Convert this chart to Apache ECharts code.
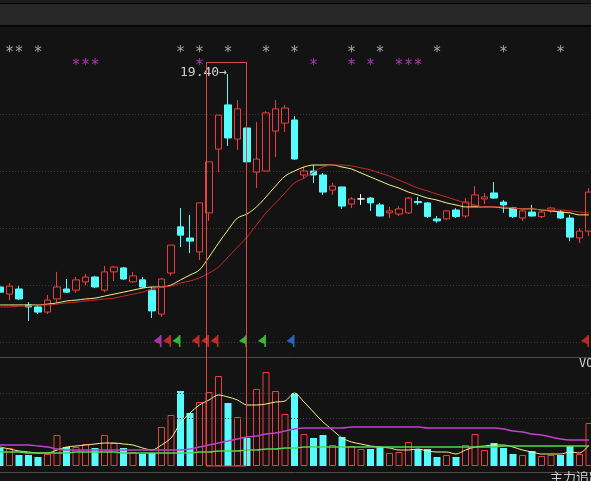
<!DOCTYPE html>
<html><head><meta charset="utf-8">
<script src="https://cdn.jsdelivr.net/npm/echarts@6/dist/echarts.min.js"></script>
<style>html,body{margin:0;padding:0;background:#131313;}#c{width:591px;height:481px;}</style>
</head><body><div id="c"></div>
<script>
const categories = ["1","2","3","4","5","6","7","8","9","10","11","12","13","14","15","16","17","18","19","20","21","22","23","24","25","26","27","28","29","30","31","32","33","34","35","36","37","38","39","40","41","42","43","44","45","46","47","48","49","50","51","52","53","54","55","56","57","58","59","60","61","62","63"];
const opens  = [11.93,11.68,11.86,11.30,11.23,11.05,11.51,11.86,11.82,12.11, 12.28,11.82,12.46,12.60,12.11,12.18,11.82,10.98,12.42,14.04, 13.65,13.16,14.53,16.77,18.32,17.12,17.51,15.96,16.00,17.40, 17.68,17.79,15.86,16.00,15.86,15.33,15.44,14.84,15.02,15.05, 14.81,14.53,14.49,14.53,14.93,14.88,14.32,14.32,14.63,14.42, 14.77,15.02,15.23,14.91,14.70,14.35,14.56,14.40,14.60,14.56, 14.35,13.65,13.89];
const closes = [11.75,11.96,11.51,11.23,11.05,11.47,11.93,11.75,12.18,12.28, 11.93,12.46,12.63,12.21,12.32,11.93,11.09,12.21,13.40,13.75, 13.54,14.88,16.32,17.96,17.16,18.18,16.32,16.42,18.04,18.18, 18.21,16.42,16.00,15.86,15.26,15.47,14.77,15.02,15.02,14.88, 14.42,14.60,14.67,15.05,14.89,14.40,14.25,14.60,14.40,14.91, 15.16,15.09,15.05,14.81,14.40,14.60,14.42,14.56,14.70,14.35, 13.68,13.89,15.26];
const lows   = [11.61,11.47,11.47,10.74,10.98,10.98,11.37,11.72,11.72,12.00, 11.89,11.75,12.14,12.18,12.07,11.89,10.84,10.88,12.32,13.33, 13.12,12.88,14.25,15.96,16.88,16.74,16.21,15.40,16.00,16.49, 17.37,16.39,15.75,15.58,15.16,15.16,14.67,14.70,14.81,14.60, 14.40,14.35,14.42,14.49,14.81,14.35,14.18,14.28,14.35,14.35, 14.74,14.84,15.02,14.53,14.35,14.25,14.40,14.35,14.53,14.32, 13.54,13.47,13.72];
const highs  = [12.07,12.07,11.96,11.40,11.30,11.65,12.46,12.21,12.28,12.39, 12.32,12.67,12.67,12.63,12.46,12.28,11.93,12.25,13.40,14.70, 14.46,14.88,16.32,17.96,19.40,18.49,17.54,17.72,18.10,18.49, 18.32,17.93,16.14,16.21,15.93,15.58,15.44,15.09,15.19,15.09, 14.88,14.74,14.77,15.09,15.09,14.91,14.42,14.63,14.70,15.05, 15.47,15.23,15.61,14.98,14.74,14.63,14.81,14.60,14.74,14.63, 14.46,14.00,15.40];
const maYellow = [11.30,11.30,11.30,11.30,11.30,11.33,11.37,11.44,11.47,11.51, 11.54,11.61,11.68,11.75,11.82,11.89,11.93,11.93,12.00,12.18, 12.35,12.53,12.98,13.47,13.93,14.35,14.49,14.74,15.09,15.47, 15.82,16.00,16.14,16.21,16.21,16.21,16.14,16.07,15.93,15.79, 15.65,15.51,15.40,15.26,15.16,15.05,14.98,14.88,14.81,14.74, 14.74,14.74,14.74,14.70,14.70,14.67,14.67,14.63,14.60,14.56, 14.53,14.46,14.46];
const maRed = [11.23,11.23,11.26,11.26,11.30,11.30,11.33,11.37,11.40,11.44, 11.47,11.51,11.54,11.61,11.68,11.75,11.86,11.93,11.96,12.07, 12.14,12.25,12.42,12.63,12.98,13.33,13.68,14.11,14.53,14.88, 15.23,15.58,15.75,15.96,16.14,16.21,16.21,16.18,16.11,16.04, 15.93,15.82,15.68,15.54,15.40,15.30,15.19,15.09,14.98,14.88, 14.81,14.74,14.74,14.74,14.70,14.67,14.67,14.63,14.63,14.63, 14.60,14.56,14.53];
const volumes = [18,18,11,11,9,12,31,19,19,22, 18,31,23,18,14,12,13,39,51,75, 53,64,74,90,63,49,28,77,94,75, 52,73,32,28,31,21,29,20,17,17, 19,13,14,24,17,17,9,11,9,21, 32,16,23,18,12,11,15,10,11,11, 20,12,43];
const volMaYellow = [19,17,15,14,13,13,16,19,20,21, 22,23,23,22,21,18,16,21,28,43, 53,61,66,71,69,66,61,61,62,64, 65,73,64,54,44,36,28,24,22,20, 19,18,16,16,17,15,14,14,12,16, 19,20,21,21,19,16,14,12,12,12, 14,13,21];
const volMaPink = [21,21,21,21,20,19,17,16,16,16, 16,16,16,16,16,16,16,16,16,16, 17,19,21,23,25,27,29,30,32,33, 35,37,38,38,38,38,38,39,39,39, 39,39,39,39,39,38,38,38,38,38, 38,38,38,37,35,34,32,31,29,27, 26,26,26];
const volMaGreen = [14,14,14,13,13,13,13,13,14,14, 14,14,14,13,13,13,13,13,13,13, 13,14,14,15,15,15,16,16,17,17, 18,18,19,19,19,19,19,19,19,19, 19,19,19,19,19,19,19,19,19,19, 19,19,19,20,20,20,20,20,20,20, 20,20,20];
const priceScale = [10, 20, 2];     // min, max, interval of the price axis
const volScale = [0, 109];          // min, max of the volume axis
const volGuides = [48, 73];         // dotted guide levels in the volume pane
const grayStars = [1,2,4,19,21,24,28,31,37,40,46,53,59];
const pinkStars = [8,9,10,21,33,37,39,42,43,44];
const flagIdx    = [17,18,19,21,22,23,26,28,31,62];
const flagColors = ['#d040d0','#e83030','#40e040','#e83030','#e83030','#e83030','#40e040','#40e040','#2f78e8','#e83030'];
const boxRange = [22, 26];
const boxTopPrice = 19.82;

const RED = '#f03c3c', CYAN = '#54fcfc', GRID = '#3a3a3a';
const chart = echarts.init(document.getElementById('c'), null, {renderer: 'canvas'});

const ohlc = categories.map((_, i) => [opens[i], closes[i], lows[i], highs[i]]);
const volData = volumes.map((v, i) => closes[i] >= opens[i]
  ? {value: v, itemStyle: {color: 'rgba(0,0,0,0)', borderColor: RED, borderWidth: 1}}
  : {value: v, itemStyle: {color: CYAN}});

const xAx = g => ({type: 'category', gridIndex: g, data: categories, boundaryGap: false,
  axisLine: {show: false}, axisTick: {show: false}, axisLabel: {show: false}, splitLine: {show: false}});
const yHidden = (g, mn, mx) => ({type: 'value', gridIndex: g, min: mn, max: mx,
  axisLine: {show: false}, axisTick: {show: false}, axisLabel: {show: false}, splitLine: {show: false}});
const gridBase = {left: 0, right: 2, containLabel: false, outerBoundsMode: 'none'};

const starLabel = (color) => ({show: true, position: 'inside', formatter: '*', color: color,
  fontSize: 15, fontFamily: 'DejaVu Sans Mono', offset: [0, 4]});

chart.setOption({
  backgroundColor: '#131313',
  animation: false,
  grid: [
    Object.assign({top: 57, height: 285}, gridBase),
    Object.assign({top: 357, height: 109}, gridBase),
    Object.assign({top: 42.5, height: 26}, gridBase),
    Object.assign({top: 335, height: 12}, gridBase)
  ],
  xAxis: [xAx(0), xAx(1), xAx(2), xAx(3)],
  yAxis: [
    {type: 'value', gridIndex: 0, min: priceScale[0], max: priceScale[1], interval: priceScale[2],
     axisLine: {show: false}, axisTick: {show: false}, axisLabel: {show: false},
     splitLine: {show: true, showMaxLine: false, showMinLine: true, lineStyle: {color: GRID, type: [1, 2], width: 1}}},
    yHidden(1, volScale[0], volScale[1]),
    yHidden(2, 0, 2),
    yHidden(3, 0, 1)
  ],
  series: [
    {type: 'candlestick', xAxisIndex: 0, yAxisIndex: 0, data: ohlc, barWidth: 7, z: 2,
     itemStyle: {color: 'rgba(0,0,0,0)', color0: CYAN, borderColor: RED, borderColor0: CYAN,
       borderColorDoji: '#ffffff', borderWidth: 1}},
    {type: 'line', xAxisIndex: 0, yAxisIndex: 0, data: maYellow, symbol: 'none', smooth: 0.3, z: 3,
     lineStyle: {color: '#f4f48a', width: 1}},
    {type: 'line', xAxisIndex: 0, yAxisIndex: 0, data: maRed, symbol: 'none', smooth: 0.3, z: 3,
     lineStyle: {color: '#d02828', width: 1}},
    {type: 'bar', xAxisIndex: 1, yAxisIndex: 1, data: volData, barWidth: 7, z: 2,
     markLine: {silent: true, symbol: 'none', label: {show: false},
       lineStyle: {color: GRID, type: [1, 2], width: 1},
       data: volGuides.map(v => ({yAxis: v}))}},
    {type: 'line', xAxisIndex: 1, yAxisIndex: 1, data: volMaYellow, symbol: 'none', smooth: 0.3, z: 3,
     lineStyle: {color: '#f4f48a', width: 1}},
    {type: 'line', xAxisIndex: 1, yAxisIndex: 1, data: volMaPink, symbol: 'none', smooth: 0.3, z: 3,
     lineStyle: {color: '#c040d0', width: 1.5}},
    {type: 'line', xAxisIndex: 1, yAxisIndex: 1, data: volMaGreen, symbol: 'none', smooth: 0.3, z: 3,
     lineStyle: {color: '#50d850', width: 1.5}},
    {type: 'scatter', xAxisIndex: 2, yAxisIndex: 2, data: grayStars.map(i => [i, 1.5]),
     symbolSize: 1, itemStyle: {color: 'rgba(0,0,0,0)'}, label: starLabel('#c8c8c8'), clip: false},
    {type: 'scatter', xAxisIndex: 2, yAxisIndex: 2, data: pinkStars.map(i => [i, 0.5]),
     symbolSize: 1, itemStyle: {color: 'rgba(0,0,0,0)'}, label: starLabel('#d040d8'), clip: false},
    {type: 'scatter', xAxisIndex: 3, yAxisIndex: 3, clip: false,
     symbol: 'path://M8,0L10,0L10,12L8,12L8,9L0,6L8,1Z', symbolSize: [8, 12], symbolOffset: [-4, 0],
     data: flagIdx.map((i, k) => ({value: [i, 0.5], itemStyle: {color: flagColors[k]}}))}
  ]
});

// annotations positioned through the library's own scales
const hiIdx = highs.indexOf(Math.max.apply(null, highs));
const hiPt = chart.convertToPixel({gridIndex: 0}, [hiIdx, highs[hiIdx]]);
const bL = chart.convertToPixel({gridIndex: 0}, [boxRange[0], boxTopPrice]);
const bR = chart.convertToPixel({gridIndex: 0}, [boxRange[1], boxTopPrice]);
const volBottom = chart.convertToPixel({gridIndex: 1}, [0, volScale[0]])[1];
const boxLeft = Math.round(bL[0] - 3.5) + 0.5, boxRight = Math.round(bR[0] - 1.5) + 0.5;
const boxTop = Math.round(bL[1]) + 0.5;

chart.setOption({
  graphic: [
    {type: 'rect', shape: {x: 0, y: 0, width: 591, height: 3}, style: {fill: '#1c1c1c'}, silent: true},
    {type: 'rect', shape: {x: 0, y: 3, width: 591, height: 1}, style: {fill: '#050505'}, silent: true},
    {type: 'rect', shape: {x: 0, y: 4, width: 591, height: 21}, style: {fill: '#272727'}, silent: true},
    {type: 'rect', shape: {x: 0, y: 25, width: 591, height: 2}, style: {fill: '#050505'}, silent: true},
    {type: 'line', shape: {x1: 0, y1: 357.5, x2: 591, y2: 357.5}, style: {stroke: '#4a4a4a', lineWidth: 1}, silent: true},
    {type: 'line', shape: {x1: 0, y1: 472.5, x2: 591, y2: 472.5}, style: {stroke: '#4a4a4a', lineWidth: 1}, silent: true},
    {type: 'text', x: 579, y: 364, style: {text: 'VOL', fill: '#cfcfcf', font: '12px "DejaVu Sans Mono"', verticalAlign: 'middle'}, silent: true},
    {type: 'text', x: 550, y: 471, style: {text: '主力追踪', fill: '#cfcfcf', font: '13px "Noto Sans CJK SC"', verticalAlign: 'top'}, silent: true},
    {type: 'text', x: hiPt[0] - 1, y: hiPt[1] - 1, z: 10,
     style: {text: highs[hiIdx].toFixed(2) + '→', fill: '#d0d0d0', font: '13px "DejaVu Sans Mono"', align: 'right', verticalAlign: 'middle'}, silent: true},
    {type: 'rect', z: 10, shape: {x: boxLeft, y: boxTop, width: boxRight - boxLeft, height: volBottom - boxTop},
     style: {fill: 'none', stroke: '#e04848', lineWidth: 1}, silent: true}
  ]
});
</script></body></html>
